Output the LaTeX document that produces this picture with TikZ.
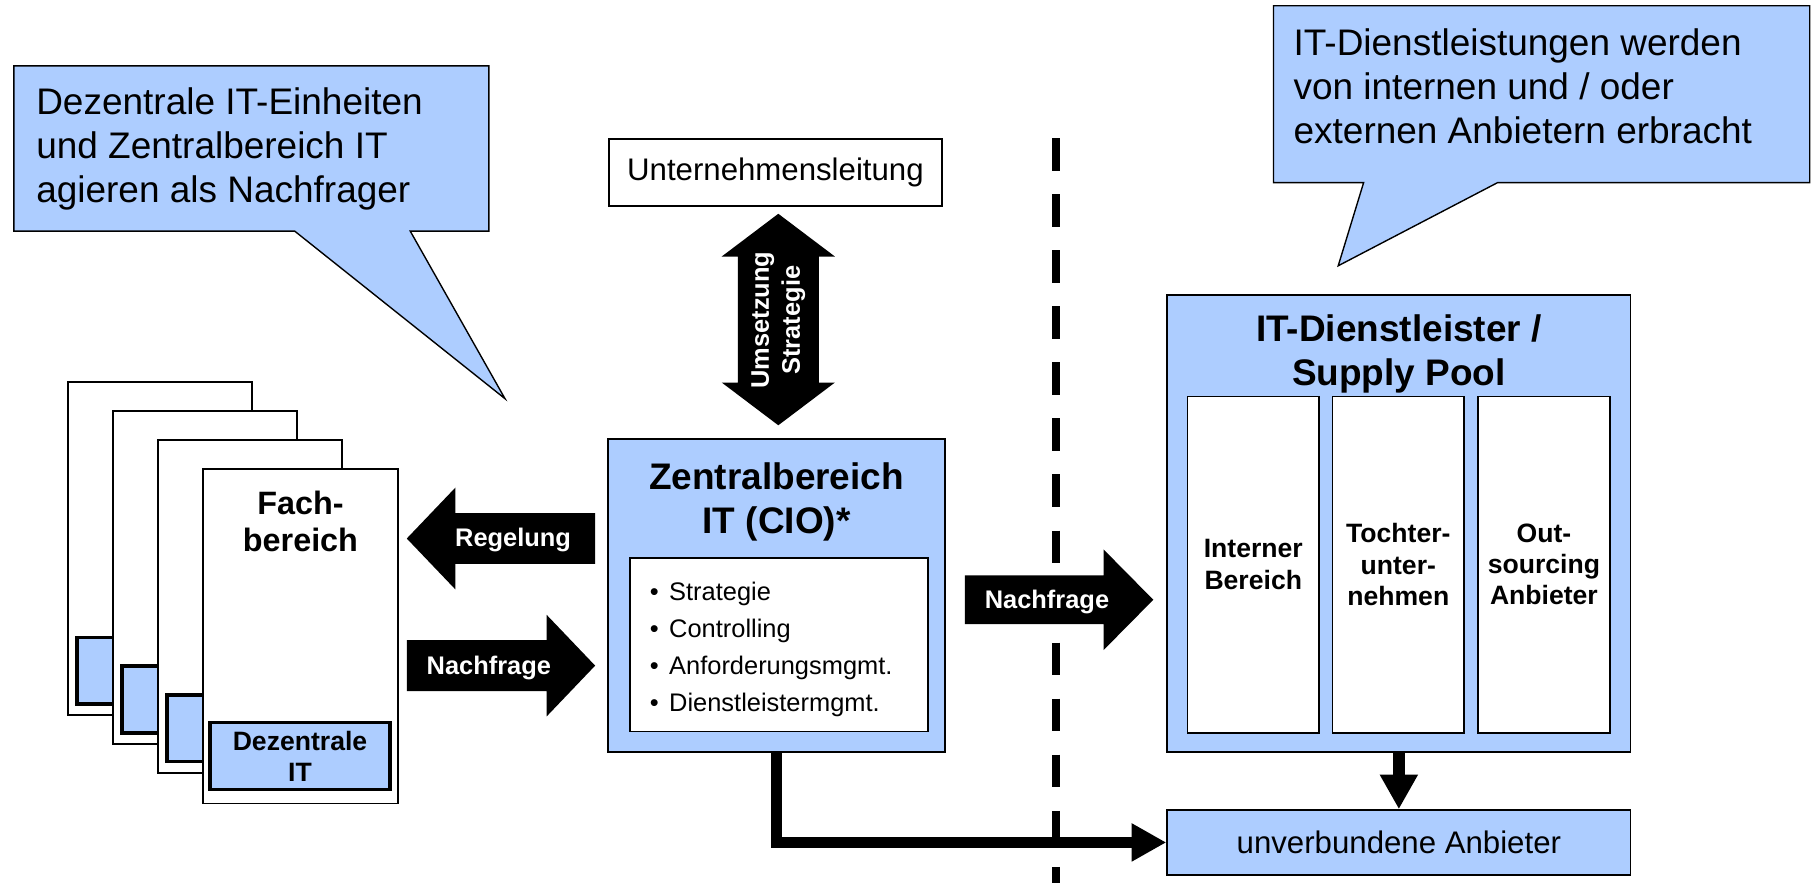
\documentclass[tikz,border=0pt]{standalone}
\usepackage{fontspec}
\setmainfont{Liberation Sans}
\usepackage{tikz}
\usetikzlibrary{arrows.meta, calc, positioning}
\usepackage{xcolor}
\definecolor{paleblue}{HTML}{ADCDFF}

\begin{document}
\begin{tikzpicture}[
  x=0.5pt, y=-0.5pt,
  every node/.style={inner sep=0pt},
  callout/.style={draw, fill=paleblue, line width=0.6pt, line join=miter},
  calltext/.style={font=\fontsize{16}{19}\selectfont, align=left, anchor=west},
  sheet/.style={draw, fill=white, line width=0.75pt,
                minimum width=79.5pt, minimum height=144pt},
  dezbox/.style={draw, fill=paleblue, line width=1.5pt,
                 minimum width=77.9pt, minimum height=28.8pt},
  bluebox/.style={draw, fill=paleblue, line width=0.75pt},
  whitebox/.style={draw, fill=white, line width=0.75pt},
  boxhead/.style={font=\bfseries\fontsize{16}{19}\selectfont, align=center},
  colhead/.style={font=\bfseries\fontsize{11.5}{13.5}\selectfont, align=center},
  colbox/.style={whitebox, colhead, minimum width=57pt, minimum height=145.5pt},
  blockarrow/.style={fill=black},
  arrowtext/.style={text=white, font=\bfseries\fontsize{11}{13.5}\selectfont, align=center},
  thickarrow/.style={line width=5pt, line join=miter,
                     -{Triangle[length=15pt, width=15.5pt]}},
  separator/.style={line width=3.5pt, dash pattern=on 14pt off 10.25pt}
]
\useasboundingbox (0,0) rectangle (1568,764);

% ---------------- Separator ----------------
\coordinate (septop) at (914,119.6);
\coordinate (sepbot) at (914,764);
\draw[separator] (septop) -- (sepbot);

% ---------------- Callouts ----------------
\draw[callout] (12,57) -- (423,57) -- (423,200) -- (355,200) -- (437,345)
  -- (255,200) -- (12,200) -- cycle;
\node[calltext] (leftnote) at (31,129)
  {Dezentrale IT-Einheiten\\und Zentralbereich IT\\agieren als Nachfrager};

\draw[callout] (1102,5) -- (1566,5) -- (1566,158) -- (1296,158) -- (1158,230)
  -- (1180,158) -- (1102,158) -- cycle;
\node[calltext] (rightnote) at (1119,75)
  {IT-Dienstleistungen werden\\von internen und / oder\\externen Anbietern erbracht};

% ---------------- Fachbereiche (stack) ----------------
\foreach \i in {0,1,2} {
  \node[sheet, anchor=north west] (sheet\i) at (58+39*\i, 330+25*\i) {};
  \node[dezbox, anchor=north west] (dez\i) at ($(sheet\i.north west)+(7,220)$) {};
}
\node[sheet, anchor=north west, minimum width=84.3pt, minimum height=144.8pt]
  (fach) at (175,405) {};
\node[font=\bfseries\fontsize{14}{16}\selectfont, align=center] (fachlabel)
  at (260,451) {Fach-\\bereich};
\node[dezbox, font=\bfseries\fontsize{11.5}{13.5}\selectfont, align=center]
  (dezit) at (259.6,654.2) {Dezentrale\\IT};

% ---------------- Unternehmensleitung ----------------
\node[whitebox, minimum width=144pt, minimum height=29pt,
      font=\fontsize{13.5}{16}\selectfont] (leitung) at (671,149) {Unternehmensleitung};

% double arrow
\fill[blockarrow] (673.5,185) -- (722.5,222) -- (708.5,222) -- (708.5,331)
  -- (722.5,331) -- (673.5,368) -- (624.5,331) -- (638.5,331) -- (638.5,222)
  -- (624.5,222) -- cycle;
\node[arrowtext, rotate=90] (strategie) at (673.5,277) {Umsetzung\\Strategie};

% ---------------- Zentralbereich IT ----------------
\node[bluebox, minimum width=146pt, minimum height=135.25pt] (zentral) at (672,515.25) {};
\node[boxhead] (zentralhead) at (672,434) {Zentralbereich\\IT (CIO)*};
\node[whitebox, minimum width=129pt, minimum height=75pt] (aufgaben) at (674,558) {};
\node[font=\fontsize{11}{16}\selectfont, align=left, anchor=west] (aufgabenlist)
  at (562,562)
  {\textbullet\hspace{4.5pt}Strategie\\
   \textbullet\hspace{4.5pt}Controlling\\
   \textbullet\hspace{4.5pt}Anforderungsmgmt.\\
   \textbullet\hspace{4.5pt}Dienstleistermgmt.};

% block arrows Fachbereich <-> Zentralbereich
\fill[blockarrow] (352,466) -- (394,422) -- (394,444) -- (515,444) -- (515,488)
  -- (394,488) -- (394,510) -- cycle;
\node[arrowtext] (regelung) at (444,467) {Regelung};

\fill[blockarrow] (352,554) -- (473,554) -- (473,532) -- (515,576) -- (473,620)
  -- (473,598) -- (352,598) -- cycle;
\node[arrowtext] (nachfrageA) at (423,578) {Nachfrage};

% block arrow Zentralbereich -> Supply Pool
\fill[blockarrow] (835,498) -- (955,498) -- (955,475.5) -- (998,519) -- (955,562.5)
  -- (955,540) -- (835,540) -- cycle;
\node[arrowtext] (nachfrageB) at (906,521) {Nachfrage};

% ---------------- Supply Pool ----------------
\node[bluebox, minimum width=200.5pt, minimum height=197.75pt] (supply) at (1210.5,452.75) {};
\node[boxhead] (supplyhead) at (1210.5,306) {IT-Dienstleister /\\Supply Pool};
\node[colbox] (intern)  at (1084.5,488.5) {Interner\\Bereich};
\node[colbox] (tochter) at (1210,488.5)   {Tochter-\\unter-\\nehmen};
\node[colbox] (outsrc)  at (1336,488.5)   {Out-\\sourcing\\Anbieter};

\node[bluebox, minimum width=200.5pt, minimum height=28pt, text depth=0pt,
      font=\fontsize{13.5}{16}\selectfont] (unverb) at (1210.5,729) {unverbundene Anbieter};

% ---------------- Arrows ----------------
\draw[thickarrow] (supply.south) -- (unverb.north);
\draw[thickarrow] (zentral.south) |- (unverb.west);

\end{tikzpicture}
\end{document}
